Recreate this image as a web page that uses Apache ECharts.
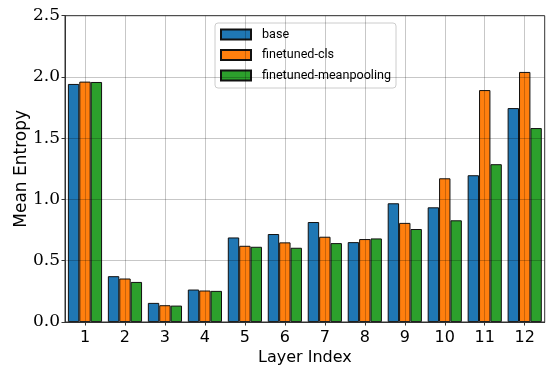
<!DOCTYPE html>
<html>
<head>
<meta charset="utf-8">
<script src="https://cdn.jsdelivr.net/npm/echarts@6/dist/echarts.min.js"></script>
<style>html,body{margin:0;padding:0;background:#fff}#c{width:546px;height:372px}</style>
</head>
<body>
<div id="c"></div>
<script>
const layers = ['1','2','3','4','5','6','7','8','9','10','11','12'];
const base = [1.943, 0.374, 0.156, 0.265, 0.690, 0.718, 0.816, 0.652, 0.969, 0.936, 1.198, 1.746];
const finetunedCls = [1.962, 0.355, 0.137, 0.257, 0.622, 0.650, 0.696, 0.677, 0.809, 1.173, 1.893, 2.041];
const finetunedMean = [1.959, 0.327, 0.134, 0.254, 0.614, 0.606, 0.644, 0.682, 0.759, 0.830, 1.288, 1.583];
const seriesNames = ['base', 'finetuned-cls', 'finetuned-meanpooling'];
const colors = ['#1f77b4', '#ff7f0e', '#2ca02c'];

const chart = echarts.init(document.getElementById('c'), null, {renderer: 'canvas'});
const gridColor = 'rgba(0,0,0,0.22)';
function mk(name, data, color) {
  return {
    name: name, type: 'bar', data: data,
    barWidth: '28.5%', barGap: '0%',
    itemStyle: {color: color, borderColor: '#111', borderWidth: 1},
    emphasis: {disabled: true}
  };
}
chart.setOption({
  animation: false,
  color: colors,
  grid: {left: 65, right: 1.3, top: 15.7, bottom: 50, outerBoundsMode: 'none', containLabel: false, show: true, borderColor: '#333', borderWidth: 1, backgroundColor: 'transparent', z: 6},
  legend: {
    orient: 'vertical', left: 215, top: 23,
    itemWidth: 30, itemHeight: 10, itemGap: 7.5,
    padding: [5, 5, 6, 5],
    backgroundColor: 'rgba(255,255,255,0.85)', borderColor: '#ccc', borderWidth: 1, borderRadius: 3,
    icon: 'rect',
    textStyle: {fontFamily: 'Roboto', fontSize: 12.6, color: '#000', padding: [0, 0, 0, 6]},
    data: seriesNames
  },
  xAxis: {
    type: 'category', data: layers, boundaryGap: true, z: 5,
    axisLine: {show: true, lineStyle: {color: '#333', width: 1}},
    axisTick: {show: true, alignWithLabel: true, length: 3.5, lineStyle: {color: '#333'}},
    axisLabel: {fontFamily: 'DejaVu Sans', fontSize: 16, color: '#000', margin: 8},
    splitLine: {show: true, alignWithLabel: true, lineStyle: {color: gridColor, width: 1}},
    name: 'Layer Index', nameLocation: 'middle', nameGap: 28, nameMoveOverlap: false,
    nameTextStyle: {fontFamily: 'DejaVu Sans', fontSize: 16, color: '#000'}
  },
  yAxis: {
    type: 'value', min: 0, max: 2.5, interval: 0.5, z: 5,
    axisLine: {show: true, lineStyle: {color: '#333', width: 1}},
    axisTick: {show: true, length: 3.5, lineStyle: {color: '#333'}},
    axisLabel: {fontFamily: 'DejaVu Serif', fontSize: 17, color: '#000', margin: 5, formatter: v => v.toFixed(1)},
    splitLine: {show: true, lineStyle: {color: gridColor, width: 1}},
    name: 'Mean Entropy', nameLocation: 'middle', nameGap: 35, nameMoveOverlap: false,
    nameTextStyle: {fontFamily: 'DejaVu Sans', fontSize: 17, color: '#000'}
  },
  series: [
    mk(seriesNames[0], base, colors[0]),
    mk(seriesNames[1], finetunedCls, colors[1]),
    mk(seriesNames[2], finetunedMean, colors[2])
  ]
});
</script>
</body>
</html>
